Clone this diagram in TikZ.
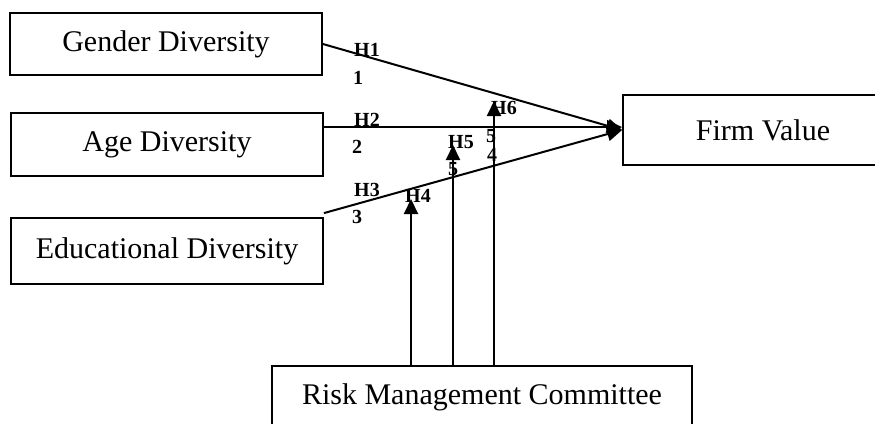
\documentclass[tikz,border=0pt]{standalone}
\usepackage{fontspec}
\setmainfont{Liberation Serif}
\usetikzlibrary{arrows.meta,calc}

\begin{document}
\begin{tikzpicture}[x=1pt,y=-1pt,
    box/.style={draw,line width=1.8pt,inner sep=0pt,font=\fontsize{30}{36}\selectfont},
    hlab/.style={inner sep=0pt,font=\fontsize{20}{22}\selectfont\bfseries},
    link/.style={line width=2pt,-{Triangle[length=15pt,width=14pt]}}]
   \useasboundingbox (0,0) rectangle (875,423);
   % variable boxes
   \node[box,minimum width=312pt,minimum height=62pt] (gd) at (166,44) {Gender Diversity};
   \node[box,minimum width=312pt,minimum height=63pt] (ad) at (167,144.5) {Age Diversity};
   \node[box,minimum width=312pt,minimum height=66pt] (ed) at (167,251) {Educational Diversity};
   \node[box,minimum width=280pt,minimum height=70pt] (fv) at (763,130) {Firm Value};
   \node[box,minimum width=420pt,minimum height=62pt] (rmc) at (482,397) {Risk Management Committee};
   % start and end points
   \coordinate (a1) at ($(ad.north east)+(0,15)$);
   \coordinate (e1) at ($(ed.north east)+(0,-4)$);
   \coordinate (t4) at (411,199);
   \coordinate (t5) at (453,145);
   \coordinate (t6) at (494,101);
   % direct effects
   \draw[link] (gd.east) -- (fv.west);
   \draw[link] (a1) -- (a1 -| fv.west);
   \draw[link] (e1) -- (fv.west);
   % moderating effects
   \draw[link] (rmc.north -| t4) -- (t4);
   \draw[link] (rmc.north -| t5) -- (t5);
   \draw[link] (rmc.north -| t6) -- (t6);
   % hypothesis labels
   \node[hlab] (h1) at (367,50) {H1};
   \node[hlab] (n1) at (358,78) {1};
   \node[hlab] (h2) at (367,120) {H2};
   \node[hlab] (n2) at (357,147) {2};
   \node[hlab] (h3) at (367,190) {H3};
   \node[hlab] (n3) at (357,217) {3};
   \node[hlab] (h4) at (418,196) {H4};
   \node[hlab] (h5) at (461,142) {H5};
   \node[hlab] (n5) at (453,169) {5};
   \node[hlab] (h6) at (504,108) {H6};
   \node[hlab] (m5) at (491,136) {5};
   \node[hlab] (n4) at (492,155) {4};
\end{tikzpicture}
\end{document}
